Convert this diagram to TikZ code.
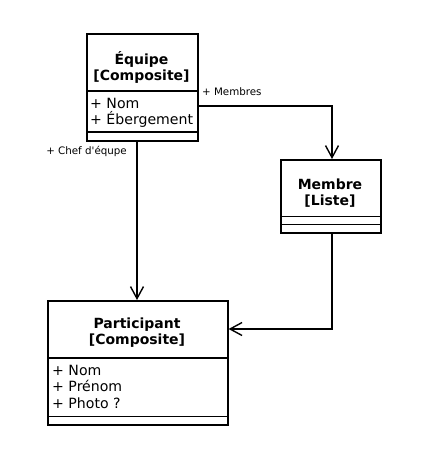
\documentclass[tikz,border=0pt]{standalone}
\usepackage{fontspec}
\setmainfont{DejaVu Sans}
\newfontfamily\lblfont{DejaVu Sans}
\usetikzlibrary{arrows.meta}
\begin{document}
\begin{tikzpicture}[x=1pt,y=-1pt,
  box/.style={draw,line width=1.6pt,inner sep=0pt,anchor=north west},
  sep/.style={line width=1.6pt},
  ttl/.style={font=\bfseries\fontsize{14}{16}\selectfont,anchor=base,inner sep=0pt},
  attr/.style={font=\fontsize{14.1}{16}\selectfont,anchor=base west,inner sep=0pt},
  lbl/.style={font=\lblfont\fontsize{10.3}{12}\selectfont,inner sep=0pt},
  conn/.style={line width=1.4pt,-{Straight Barb[length=12pt,width=13pt,line width=1.4pt]}}]
\useasboundingbox (0,0) rectangle (442,455);
% Equipe
\node[box,minimum width=111pt,minimum height=107pt] (eq) at (86,33) {};
\draw[sep] (86,91) -- (197,91) (86,132) -- (197,132);
\node[ttl] (eqt1) at (141.5,64) {Équipe};
\node[ttl] (eqt2) at (141.5,80) {[Composite]};
\node[attr] (eqa1) at (90,108) {+ Nom};
\node[attr] (eqa2) at (90,124) {+ Ébergement};
% Membre
\node[box,minimum width=100pt,minimum height=73pt] (me) at (280,159) {};
\draw[sep] (280,216.5) -- (380,216.5) (280,224.5) -- (380,224.5);
\node[ttl] (met1) at (330,189) {Membre};
\node[ttl] (met2) at (330,205) {[Liste]};
% Participant
\node[box,minimum width=180pt,minimum height=124pt] (pa) at (47,300) {};
\draw[sep] (47,358) -- (227,358) (47,416.5) -- (227,416.5);
\node[ttl] (pat1) at (137,328) {Participant};
\node[ttl] (pat2) at (137,344) {[Composite]};
\node[attr] (paa1) at (52,375) {+ Nom};
\node[attr] (paa2) at (52,391.5) {+ Prénom};
\node[attr] (paa3) at (52,408) {+ Photo ?};
% connectors
\coordinate (c1) at (332,106);
\draw[conn] (eq.east |- c1) -- (c1) -- (me.north -| c1);
\node[lbl,anchor=base west] (l1) at (202,95) {+ Membres};
\draw[conn] (eq.south -| 137,0) -- (pa.north -| 137,0);
\node[lbl,anchor=base east] (l2) at (127,154) {+ Chef d'équpe};
\coordinate (c2) at (332,329);
\draw[conn] (me.south -| c2) -- (c2) -- (pa.east |- c2);
\end{tikzpicture}
\end{document}
